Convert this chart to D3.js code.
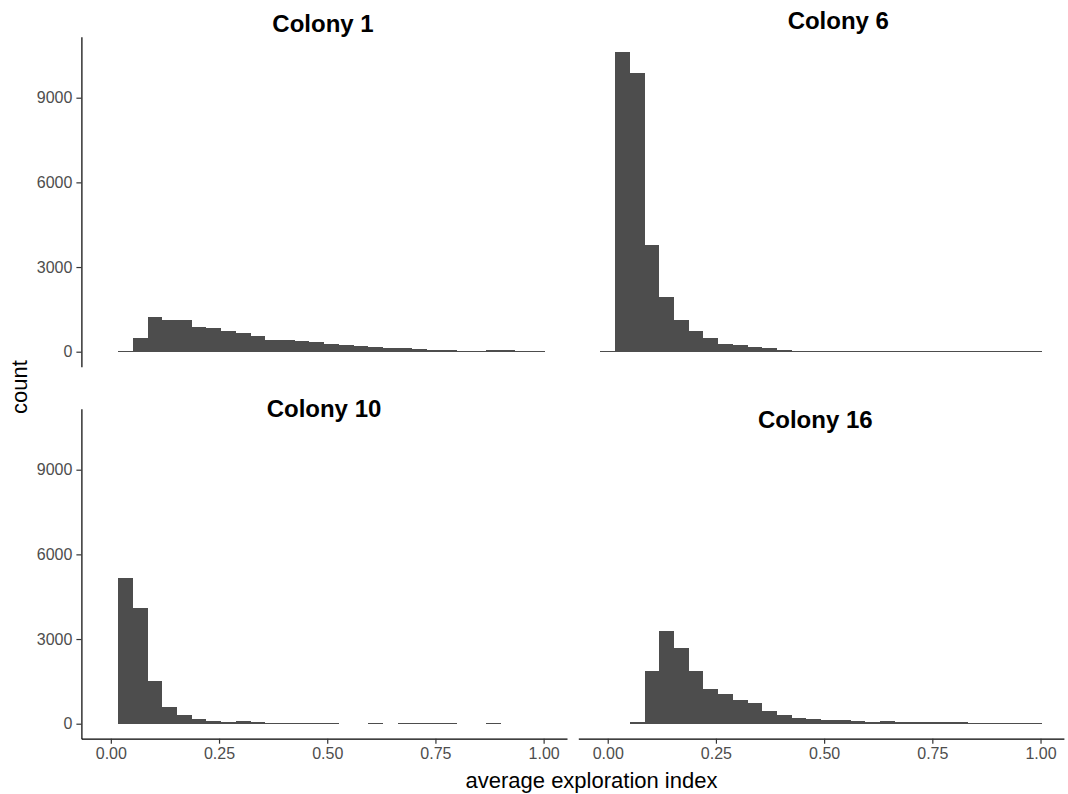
<!DOCTYPE html>
<html><head><meta charset="utf-8">
<script src="https://cdn.jsdelivr.net/npm/d3@7"></script>
<style>
body{margin:0;background:#fff}
text{font-family:"Liberation Sans",Arial,Helvetica,sans-serif}
</style>
</head><body>
<svg id="chart" width="1068" height="794"></svg>
<script>
// ---- data ----
const colonies = ["Colony 1", "Colony 6", "Colony 10", "Colony 16"];
const binStart = -0.017;   // left edge of first histogram bin
const binWidth = 0.034;    // 30 bins
const countsColony1  = [0, 25, 470, 1220, 1110, 1140, 890, 850, 750, 675, 570, 430, 420, 390, 360, 290, 255, 185, 180, 145, 115, 80, 45, 45, 40, 40, 50, 50, 25, 20];
const countsColony6  = [22, 10630, 9880, 3780, 1935, 1140, 720, 470, 290, 220, 180, 145, 70, 36, 36, 25, 20, 20, 20, 20, 20, 20, 20, 20, 20, 20, 20, 20, 20, 20];
const countsColony10 = [0, 5160, 4100, 1520, 590, 320, 165, 95, 60, 95, 60, 25, 25, 25, 25, 25, 0, 0, 20, 0, 20, 20, 20, 20, 0, 0, 20, 0, 0, 0];
const countsColony16 = [0, 0, 75, 1865, 3280, 2680, 1865, 1230, 1050, 840, 730, 450, 305, 200, 165, 130, 130, 95, 60, 95, 60, 60, 60, 60, 60, 25, 25, 25, 25, 25];
const yTickValues = [0, 3000, 6000, 9000];
const xTickValues = [0, 0.25, 0.5, 0.75, 1];
const xTitle = "average exploration index";
const yTitle = "count";

// ---- layout ----
const PW = 485.6, PH = 330;
const panels = [
  {title: colonies[0], counts: countsColony1,  left: 81.4,  top: 36.7,  yAxis: true,  xAxis: false, tx: 323,   ty: 31.7},
  {title: colonies[1], counts: countsColony6,  left: 578.3, top: 36.7,  yAxis: false, xAxis: false, tx: 838.3, ty: 29.3},
  {title: colonies[2], counts: countsColony10, left: 81.4,  top: 408.7, yAxis: true,  xAxis: true,  tx: 324,   ty: 417.3},
  {title: colonies[3], counts: countsColony16, left: 578.3, top: 408.7, yAxis: false, xAxis: true,  tx: 815.3, ty: 427.7}
];

const svg = d3.select("#chart");
const nBins = countsColony1.length;
const binEnd = binStart + nBins * binWidth;
const xPad = 0.05 * (binEnd - binStart);
const allMax = d3.max([countsColony1, countsColony6, countsColony10, countsColony16].flat());
const yPad = 0.05 * allMax;

panels.forEach(p => {
  const x = d3.scaleLinear().domain([binStart - xPad, binEnd + xPad]).range([p.left, p.left + PW]);
  const y = d3.scaleLinear().domain([-yPad, allMax + yPad]).range([p.top + PH, p.top]);
  const bins = p.counts.map((c, i) => ({x0: binStart + i * binWidth, x1: binStart + (i + 1) * binWidth, c}))
    .filter(d => d.c > 0);
  svg.append("g").selectAll("rect").data(bins).join("rect")
    .attr("x", d => x(d.x0))
    .attr("width", d => x(d.x1) - x(d.x0))
    .attr("y", d => y(d.c))
    .attr("height", d => y(0) - y(d.c))
    .attr("fill", "#4d4d4d")
    .attr("shape-rendering", "crispEdges");

  if (p.yAxis) {
    const g = svg.append("g").attr("transform", `translate(${p.left},0)`)
      .call(d3.axisLeft(y).tickValues(yTickValues).tickSize(5).tickSizeOuter(0).tickPadding(4).tickFormat(d3.format("d")));
    g.select(".domain").attr("stroke", "#000").attr("stroke-width", 1.2);
    g.selectAll(".tick line").attr("stroke", "#333").attr("stroke-width", 1.2);
    g.selectAll(".tick text").attr("fill", "#4d4d4d").style("font-size", "16px").attr("font-family", null);
  }
  if (p.xAxis) {
    const g = svg.append("g").attr("transform", `translate(0,${p.top + PH})`)
      .call(d3.axisBottom(x).tickValues(xTickValues).tickSize(5).tickSizeOuter(0).tickPadding(4).tickFormat(d3.format(".2f")));
    g.select(".domain").attr("stroke", "#000").attr("stroke-width", 1.2);
    g.selectAll(".tick line").attr("stroke", "#333").attr("stroke-width", 1.2);
    g.selectAll(".tick text").attr("fill", "#4d4d4d").style("font-size", "16px").attr("font-family", null);
  }
  svg.append("text").attr("x", p.tx).attr("y", p.ty)
    .attr("text-anchor", "middle").attr("font-weight", "bold")
    .style("font-size", "24px").attr("fill", "#000").text(p.title);
});

svg.append("text").attr("x", 591.5).attr("y", 788)
  .attr("text-anchor", "middle").style("font-size", "22px").attr("fill", "#000").text(xTitle);
svg.append("text").attr("transform", "translate(26.5,387) rotate(-90)")
  .attr("text-anchor", "middle").style("font-size", "22px").attr("fill", "#000").text(yTitle);
</script>
</body></html>
